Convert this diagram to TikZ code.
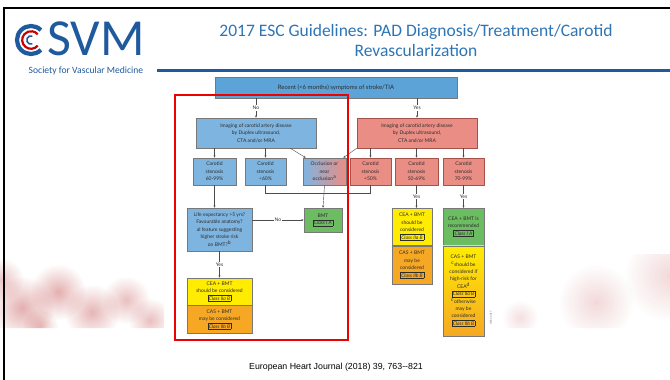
\documentclass[tikz,border=0pt]{standalone}
\usepackage{fontspec}
\setmainfont{Lato}
\newfontfamily\titlefont{Carlito}
\newfontfamily\capfont{Liberation Sans}
\usetikzlibrary{arrows.meta,fadings}

\definecolor{svmblue}{RGB}{31,90,158}
\definecolor{titleblue}{RGB}{46,117,182}
\definecolor{topblue}{RGB}{92,163,216}
\definecolor{liteblue}{RGB}{126,180,224}
\definecolor{salmon}{RGB}{234,141,133}
\definecolor{salmonline}{RGB}{165,82,74}
\definecolor{okgreen}{RGB}{108,189,98}
\definecolor{ylw}{RGB}{255,236,0}
\definecolor{orng}{RGB}{246,168,36}
\definecolor{boxline}{RGB}{120,120,120}
\definecolor{txt}{RGB}{45,45,45}
\definecolor{framered}{RGB}{236,0,0}
\definecolor{blob}{RGB}{185,45,45}

\tikzfading[name=softedge, inner color=transparent!0, outer color=transparent!100]

%% boxed class of recommendation
\newcommand{\cls}[1]{{\setlength{\fboxsep}{0.9pt}\setlength{\fboxrule}{0.3pt}\fbox{\itshape Class #1}}}
%% soft round cell: x, y, radius, strength
\newcommand{\softblob}[4]{%
  \fill[blob, opacity=#4, path fading=softedge] (#1,#2) circle (#3);}

\tikzset{
  box/.style={draw=boxline, line width=0.5pt, align=center, text=txt, inner sep=0.5pt,
    font=\fontsize{5}{7.4}\selectfont},
  bluebox/.style={box, fill=liteblue},
  redbox/.style={box, fill=salmon, draw=salmonline},
  lbl/.style={fill=white, inner sep=0.8pt, text=txt, font=\fontsize{5}{6}\selectfont},
  arr/.style={draw=txt!85, line width=0.4pt, -{Stealth[length=2.4pt,width=2pt]}},
  ln/.style={draw=txt!85, line width=0.4pt},
}

\begin{document}
\begin{tikzpicture}[x=1pt,y=-1pt]
  \useasboundingbox (0,0) rectangle (670,380);
  \fill[white] (0,0) rectangle (670,380);

  %% faded blood cells behind the chart
  \begin{scope}
    \clip (0,254) rectangle (164,328) (495,254) rectangle (670,328);
    \softblob{22}{308}{32}{0.38}
    \softblob{58}{292}{28}{0.38}
    \softblob{92}{312}{28}{0.35}
    \softblob{126}{300}{24}{0.3}
    \softblob{150}{320}{22}{0.3}
    \softblob{2}{280}{22}{0.28}
    \softblob{40}{326}{18}{0.3}
    \softblob{520}{318}{18}{0.15}
    \softblob{596}{302}{38}{0.18}
    \softblob{670}{276}{46}{0.18}
  \end{scope}

  %% slide frame
  \draw[black, line width=2pt] (4,380) -- (4,8) -- (670,8);

  %% logo
  \draw[svmblue, line width=4.2pt] (31,40) ++(45:14) arc (45:315:14);
  \draw[framered!85!black, line width=2.2pt] (31,40) ++(40:8.8) arc (40:320:8.8);
  \draw[svmblue, line width=1.6pt] (31,40) ++(70:4.2) arc (70:290:4.2);
  \node[anchor=west, inner sep=0, text height=33pt, text depth=0pt, text=svmblue,
    font=\titlefont\fontsize{52}{52}\selectfont] (svm) at (47,39) {SVM};
  \node[inner sep=0, text=svmblue, font=\titlefont\fontsize{9.6}{10}\selectfont] (society) at (86,70.5) {Society for Vascular Medicine};
  \draw[svmblue, line width=3pt] (157,70) -- (670,70);

  %% title
  \node[align=center, text=titleblue, font=\titlefont\fontsize{17.5}{20}\selectfont] (title) at (416,40)
    {2017 ESC Guidelines: PAD Diagnosis/Treatment/Carotid\\Revascularization};

  %% first question
  \node[box, fill=topblue, minimum width=242pt, minimum height=21pt, font=\fontsize{6}{7}\selectfont] (top) at (336,87.5)
    {Recent (<6 months) symptoms of stroke/TIA};

  %% imaging
  \node[bluebox, minimum width=120pt, minimum height=30pt] (leftimg) at (256,133)
    {Imaging of carotid artery disease\\by Duplex ultrasound,\\CTA and/or MRA};
  \node[redbox, minimum width=120pt, minimum height=30pt] (rightimg) at (417,133)
    {Imaging of carotid artery disease\\by Duplex ultrasound,\\CTA and/or MRA};

  %% stenosis grades
  \node[bluebox, minimum width=43pt, minimum height=27pt] (s6099) at (214.5,171.5) {Carotid\\stenosis\\60-99\%};
  \node[bluebox, minimum width=41pt, minimum height=27pt] (s60) at (265.5,171.5) {Carotid\\stenosis\\<60\%};
  \node[box, left color=liteblue, right color=salmon, minimum width=43pt, minimum height=27pt] (occl) at (324.5,171.5)
    {Occlusion or\\near\\occlusion\textsuperscript{a}};
  \node[redbox, minimum width=41pt, minimum height=27pt] (s50) at (370.5,171.5) {Carotid\\stenosis\\<50\%};
  \node[redbox, minimum width=43pt, minimum height=27pt] (s5069) at (416.5,171.5) {Carotid\\stenosis\\50-69\%};
  \node[redbox, minimum width=41pt, minimum height=27pt] (s7099) at (463.5,171.5) {Carotid\\stenosis\\70-99\%};

  %% outcomes
  \node[box, fill=okgreen, minimum width=38pt, minimum height=24pt] (bmt) at (323,220) {BMT\\\cls{I A}};
  \node[bluebox, minimum width=65pt, minimum height=43pt] (life) at (219.5,229.5)
    {Life expectancy >5 yrs?\\Favourable anatomy?\\al feature suggesting\\higher stroke risk\\on BMT?\textsuperscript{b}};
  \node[box, fill=ylw, minimum width=65pt, minimum height=27pt] (cea1) at (219.5,291.5)
    {CEA + BMT\\should be considered\\\cls{IIa B}};
  \node[box, fill=orng, minimum width=65pt, minimum height=28pt, anchor=north] (cas1) at (cea1.south)
    {CAS + BMT\\may be considered\\\cls{IIb B}};
  \node[box, fill=ylw, minimum width=40pt, minimum height=37pt, anchor=north] (cea2) at (412,208)
    {CEA + BMT\\should be\\considered\\\cls{IIa B}};
  \node[box, fill=orng, minimum width=40pt, minimum height=38pt, anchor=north] (cas2) at (cea2.south)
    {CAS + BMT\\may be\\considered\\\cls{IIb B}};
  \node[box, fill=okgreen, minimum width=41pt, minimum height=37pt, anchor=north] (cea3) at (463.5,208)
    {CEA + BMT is\\recommended\\\cls{I A}};
  \node[box, top color=ylw, bottom color=orng, minimum width=41pt, minimum height=90pt, anchor=north] (cas3) at (cea3.south)
    {CAS + BMT\\\textsuperscript{c}should be\\considered if\\high-risk for\\CEA\textsuperscript{d}\\\cls{IIa B}\\\textsuperscript{c}otherwise\\may be\\considered\\\cls{IIb B}};
  \node[rotate=90, text=txt!70, font=\fontsize{2.6}{3}\selectfont] (esc) at (491,318) {\copyright ESC 2017};

  %% connectors
  \draw[arr] (top.south -| leftimg) -- node[lbl] {No} (leftimg.north);
  \draw[arr] (top.south -| rightimg) -- node[lbl] {Yes} (rightimg.north);
  \draw[arr] (leftimg.south -| s6099) -- (s6099.north);
  \draw[arr] (leftimg.south -| s60) -- (s60.north);
  \draw[arr] ([xshift=-26pt]leftimg.south east) -- ([xshift=3pt]occl.north west);
  \draw[arr] (rightimg.south west) -- ([xshift=-3pt]occl.north east);
  \draw[arr] (rightimg.south -| s50) -- (s50.north);
  \draw[arr] (rightimg.south -| s5069) -- (s5069.north);
  \draw[arr] (rightimg.south -| s7099) -- (s7099.north);
  \draw[ln] (s60.south) -- ++(0,8) -| (s50.south);
  \draw[arr] (occl.south) -- (bmt.north);
  \draw[arr] (s6099.south) -- (s6099.south |- life.north);
  \draw[arr] (life.east |- bmt.west) -- node[lbl] {No} (bmt.west);
  \draw[arr] (life.south) -- node[lbl] {Yes} (cea1.north);
  \draw[arr] (s5069.south) -- node[lbl] {Yes} (s5069.south |- cea2.north);
  \draw[arr] (s7099.south) -- node[lbl] {Yes} (cea3.north);

  %% no-symptom branch highlighted
  \draw[framered, line width=2pt] (175,95) rectangle (348,340);

  %% reference
  \node[font=\capfont\fontsize{8.8}{10}\selectfont] (ref) at (336,367) {European Heart Journal (2018) 39, 763--821};
\end{tikzpicture}
\end{document}
